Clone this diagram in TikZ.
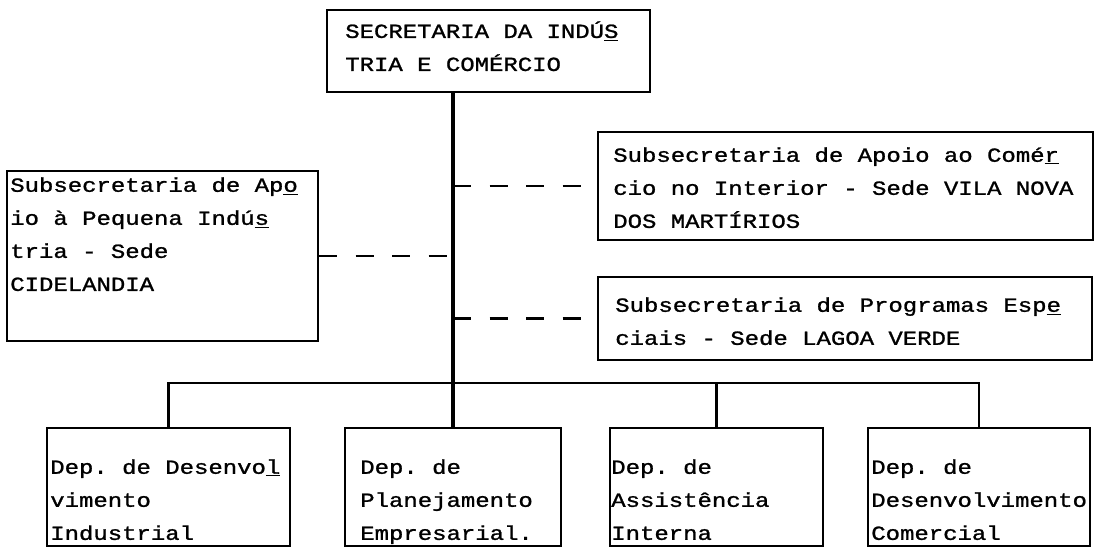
\documentclass[tikz,border=0pt]{standalone}
\usepackage{fontspec}
\setmonofont[FakeStretch=1.2, FakeBold=1.2]{Liberation Mono}
\usetikzlibrary{calc}
\tikzset{%
    unit/.style={
		draw,
		rectangle,
		line width=1.4pt
	}
}
\tikzset{typed/.style={anchor=north west, align=left, font=\ttfamily\fontsize{14.2}{23.5}\selectfont, execute at begin node={\rule{0pt}{0.9em}}}}
\tikzset{staff/.style={line width=1.5pt, dash pattern=on 13pt off 13pt}}
\tikzset{wire/.style={draw, line width=1.8pt}}

\begin{document}
\begin{tikzpicture}[x=0.025cm, y=-0.025cm]
		% Default action for each node
		\tikzstyle{every node}=[inner sep=0pt];
		\useasboundingbox (0,0) rectangle (1096,552);

		\node[unit, minimum width=8.075cm, minimum height=2.05cm] (sec) at (488.5,51) {};
		\node[unit, minimum width=7.775cm, minimum height=4.25cm] (apoio) at (162.5,256) {};
		\node[unit, minimum width=12.375cm, minimum height=2.7cm] (comercio) at (845.5,186) {};
		\node[unit, minimum width=12.35cm, minimum height=2.075cm] (programas) at (845,318.5) {};
		\node[unit, minimum width=6.075cm, minimum height=2.95cm] (desind) at (168.5,487) {};
		\node[unit, minimum width=5.375cm, minimum height=2.95cm] (plan) at (453,487) {};
		\node[unit, minimum width=5.325cm, minimum height=2.95cm] (assist) at (716.5,487) {};
		\node[unit, minimum width=5.55cm, minimum height=2.95cm] (descom) at (979,487) {};

		\node[typed] (sectxt) at (345,21) {SECRETARIA DA INDÚ\underline{S}\\TRIA E COMÉRCIO};
		\node[typed] (apoiotxt) at (10,177) {Subsecretaria de Ap\underline{o}\\io à Pequena Indú\underline{s}\\tria - Sede\\CIDELANDIA};
		\node[typed] (comerciotxt) at (613,147) {Subsecretaria de Apoio ao Comé\underline{r}\\cio no Interior - Sede VILA NOVA\\DOS MARTÍRIOS};
		\node[typed] (programastxt) at (615,297) {Subsecretaria de Programas Esp\underline{e}\\ciais - Sede LAGOA VERDE};
		\node[typed] (desindtxt) at (50,459) {Dep. de Desenvo\underline{l}\\vimento\\Industrial};
		\node[typed] (plantxt) at (360,459) {Dep. de\\Planejamento\\Empresarial.};
		\node[typed] (assisttxt) at (611,459) {Dep. de\\Assistência\\Interna};
		\node[typed] (descomtxt) at (871,459) {Dep. de\\Desenvolvimento\\Comercial};

		\coordinate (bus) at (453,383);

		\draw[line width=2.3pt] (sec.south -| plan.north) -- (plan.north);
		\path[wire] (desind.north) |- (descom.north |- bus) -- (descom.north);
		\path[wire] (assist.north) -- (assist.north |- bus);

		\draw[staff] (apoio.east) -- (apoio.east -| plan.north);
		\draw[staff] (comercio.west -| plan.north) -- (comercio.west);
		\draw[staff] (programas.west -| plan.north) -- (programas.west);
	\end{tikzpicture}
\end{document}
